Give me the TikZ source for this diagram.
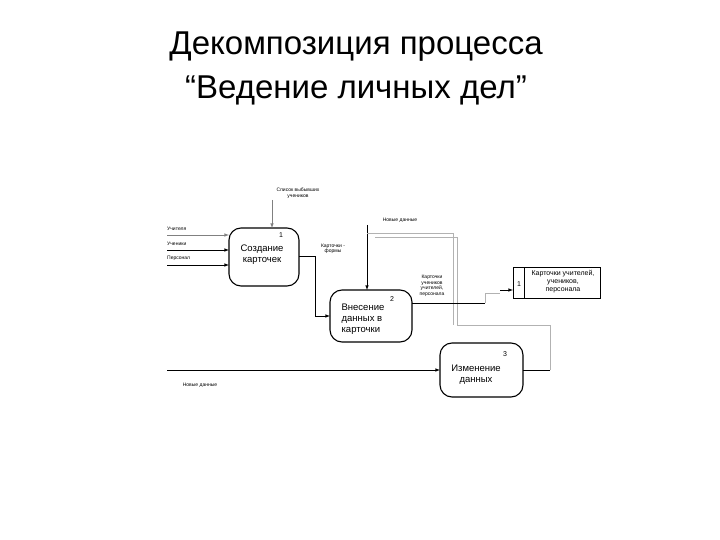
\documentclass[tikz,border=0pt]{standalone}
\usepackage{fontspec}
\setmainfont{Liberation Sans}
\begin{document}
\begin{tikzpicture}[x=1pt,y=-1pt,
 proc/.style={draw,line width=1.1pt,rounded corners=12pt},
 btxt/.style={font=\fontsize{9.5}{11}\selectfont,inner sep=0pt},
 lbl/.style={font=\fontsize{5}{5.5}\selectfont,align=center,inner sep=0pt},
 num/.style={font=\fontsize{7}{7}\selectfont,inner sep=0pt},
 fl/.style={draw,line width=0.6pt,-latex},
 gl/.style={draw=gray!60,line width=0.6pt}]
\useasboundingbox (0,0) rectangle (720,540);
\node[font=\fontsize{33}{44}\selectfont,align=center] (title) at (356,68) {Декомпозиция процесса\\“Ведение личных дел”};
% boxes
\draw[proc] (229,228) rectangle (299,286);
\node[btxt,align=center] (b1) at (262,255) {Создание\\карточек};
\node[num] (n1) at (281,235) {1};
\coordinate (b1n) at (272,228);
\draw[proc] (330,290) rectangle (412,342);
\node[btxt,align=left] (b2) at (363,319) {Внесение\\данных в\\карточки};
\node[num] (n2) at (392,299) {2};
\draw[proc] (440,343) rectangle (523,397);
\node[btxt,align=center] (b3) at (476,375) {Изменение\\данных};
\node[num] (n3) at (505,354) {3};
% store
\draw[line width=1pt] (513,267) rectangle (600,298);
\draw[line width=1pt] (524,267) -- (524,298);
\node[num] (sn) at (519,284) {1};
\node[font=\fontsize{7}{8}\selectfont,align=center] (st) at (563,282) {Карточки учителей,\\учеников,\\персонала};
% left inputs
\coordinate (u1) at (167,235); \coordinate (u2) at (167,250); \coordinate (u3) at (167,265);
\draw[fl,draw=gray] (u1) -- (229,235);
\draw[fl] (u2) -- (229,250);
\draw[fl] (u3) -- (229,265);
\node[lbl,anchor=south west] (l1) at (167,231) {Учителя};
\node[lbl,anchor=south west] (l2) at (167,246) {Ученики};
\node[lbl,anchor=south west] (l3) at (167,261) {Персонал};
% top input
\node[lbl] (sp) at (298,193) {Список выбывших\\учеников};
\draw[fl,draw=gray] (272,200) -- (b1n);
% forms
\node[lbl] (kf) at (333,249) {Карточки -\\формы};
\draw[fl] (299,256) -- (315,256) -- (315,316) -- (330,316);
% new data top
\node[lbl] (nd) at (400,220) {Новые данные};
\draw[fl] (367,225) -- (367,290);
\draw[gl] (367,233) -- (453,233) -- (453,325);
\draw[gl] (375,237) -- (457,237) -- (457,325) -- (550,325) -- (550,370);
\draw[line width=0.6pt] (550,370) -- (523,370);
% to store
\node[lbl] (ku) at (432,286) {Карточки\\учеников\\учителей,\\персонала};
\draw[line width=0.6pt] (412,303) -- (485,303);
\draw[gl] (485,303) -- (485,293) -- (500,293);
\draw[fl] (500,290) -- (513,290);
% new data bottom
\node[lbl] (nd2) at (200,385) {Новые данные};
\draw[fl] (167,370) -- (440,370);
\end{tikzpicture}
\end{document}
